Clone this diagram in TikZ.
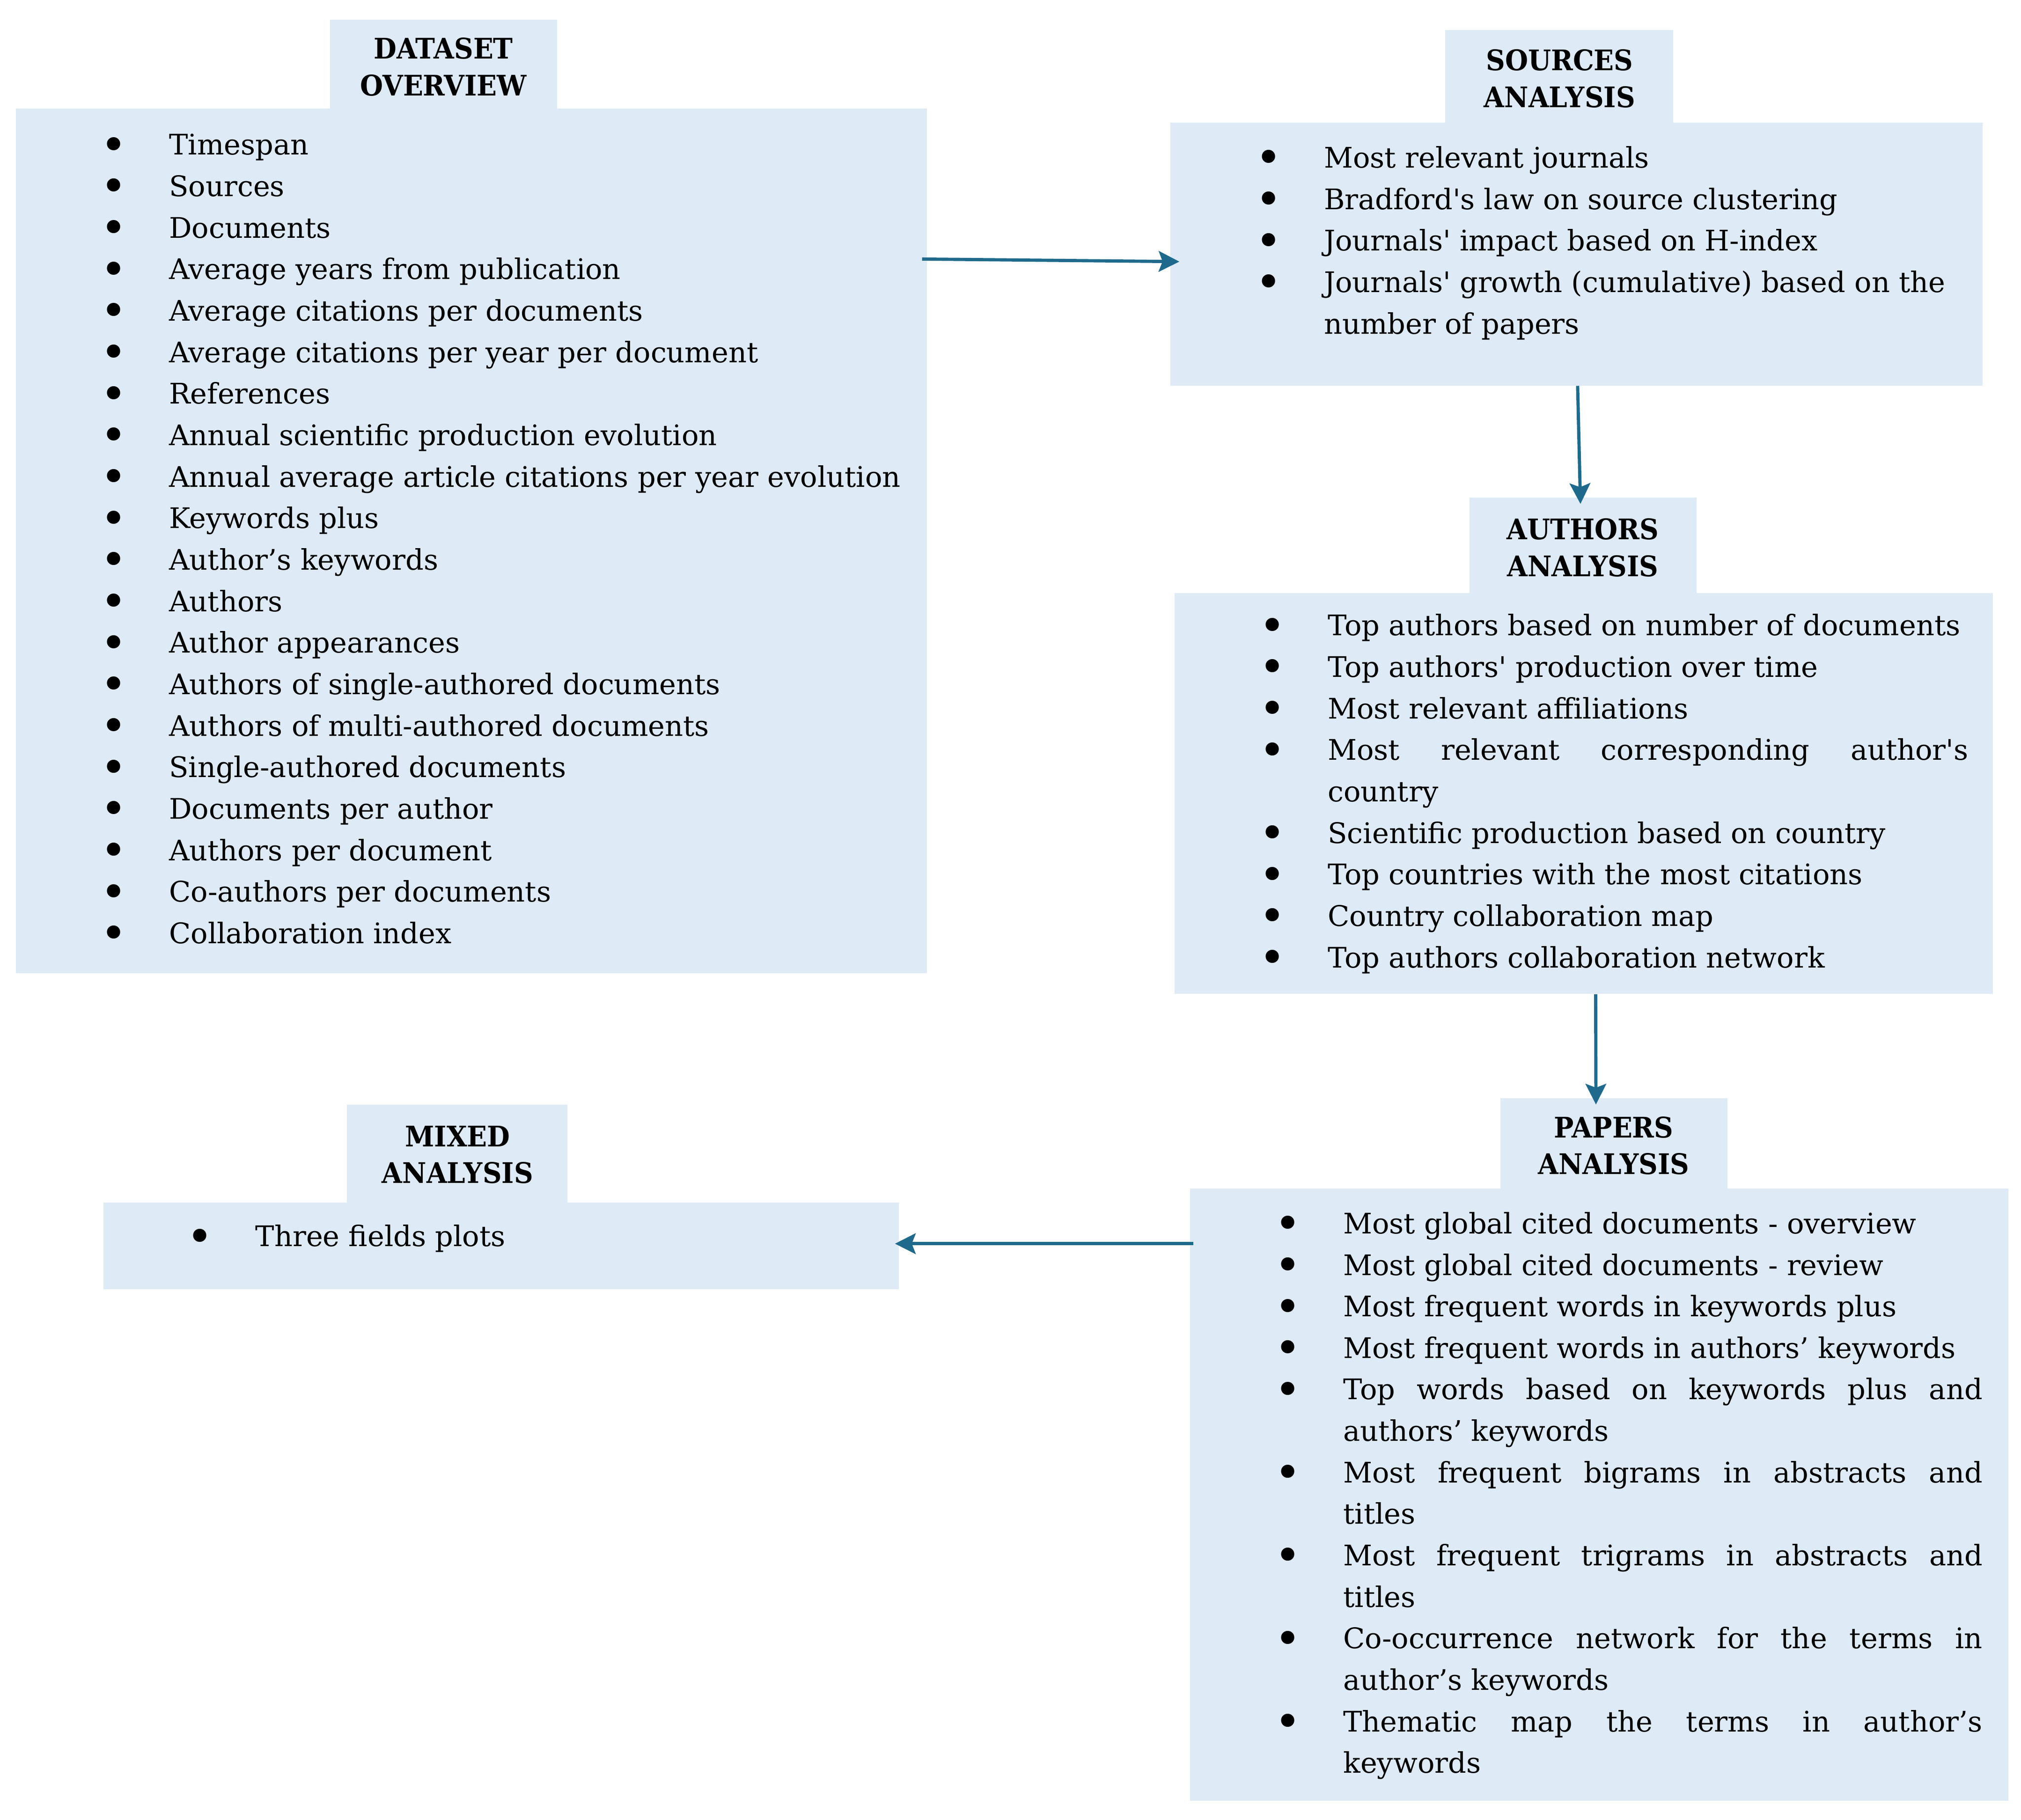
\documentclass[tikz,border=0pt]{standalone}
\usepackage{fontspec}
\usepackage{graphicx}
\setmainfont{DejaVu Serif}
\newfontfamily\hdfont{DejaVu Serif}[FakeStretch=0.93]
\usetikzlibrary{arrows.meta}
\definecolor{panelfill}{HTML}{DEEAF6}
\definecolor{arrowcol}{HTML}{1F6A8C}
\newcommand{\bitem}[1]{\par\noindent\llap{\makebox[0pt][c]{\raisebox{-4.5pt}{\scalebox{1.6}{\textbullet}}}\hspace{43pt}}#1}
\tikzset{
  panel/.style={fill=panelfill, draw=none, inner sep=0pt, anchor=north west},
  tabtext/.style={font=\hdfont\bfseries\fontsize{22}{28.5}\selectfont, align=center, inner sep=0pt},
  listtext/.style={font=\fontsize{22}{32.2}\selectfont, inner sep=0pt, anchor=base west, align=justify},
  arr/.style={draw=arrowcol, line width=2.5pt, -{Stealth[length=16pt,width=16pt,inset=3pt]}}
}
\begin{document}
\begin{tikzpicture}[x=1pt,y=-1pt]
\useasboundingbox (0,0) rectangle (1568,1412);

% ---------- DATASET OVERVIEW ----------
\node[panel, minimum width=176pt, minimum height=71pt] (dstab) at (256,15) {};
\node[panel, minimum width=707pt, minimum height=671pt] (dsbox) at (12,84) {};
\node[tabtext] (dstitle) at (344,52) {DATASET\\OVERVIEW};
\node[listtext, text width=600pt] (dslist) at (131,88) {%
\bitem{Timespan}
\bitem{Sources}
\bitem{Documents}
\bitem{Average years from publication}
\bitem{Average citations per documents}
\bitem{Average citations per year per document}
\bitem{References}
\bitem{Annual scientific production evolution}
\bitem{Annual average article citations per year evolution}
\bitem{Keywords plus}
\bitem{Author’s keywords}
\bitem{Authors}
\bitem{Author appearances}
\bitem{Authors of single-authored documents}
\bitem{Authors of multi-authored documents}
\bitem{Single-authored documents}
\bitem{Documents per author}
\bitem{Authors per document}
\bitem{Co-authors per documents}
\bitem{Collaboration index}};

% ---------- SOURCES ANALYSIS ----------
\node[panel, minimum width=177pt, minimum height=73pt] (srctab) at (1121,23) {};
\node[panel, minimum width=630pt, minimum height=204pt] (srcbox) at (908,95) {};
\node[tabtext] (srctitle) at (1210,61) {SOURCES\\ANALYSIS};
\node[listtext, text width=505pt] (srclist) at (1027,98) {%
\bitem{Most relevant journals}
\bitem{Bradford\textquotesingle s law on source clustering}
\bitem{Journals\textquotesingle\ impact based on H-index}
\bitem{Journals\textquotesingle\ growth (cumulative) based on the\newline number of papers}};

% ---------- AUTHORS ANALYSIS ----------
\node[panel, minimum width=176pt, minimum height=75pt] (autab) at (1140,386) {};
\node[panel, minimum width=635pt, minimum height=311pt] (aubox) at (911,460) {};
\node[tabtext] (autitle) at (1228,425) {AUTHORS\\ANALYSIS};
\node[listtext, text width=497pt] (aulist) at (1030,461) {%
\bitem{Top authors based on number of documents}
\bitem{Top authors\textquotesingle\ production over time}
\bitem{Most relevant affiliations}
\bitem{Most relevant corresponding author\textquotesingle s\linebreak country}
\bitem{Scientific production based on country}
\bitem{Top countries with the most citations}
\bitem{Country collaboration map}
\bitem{Top authors collaboration network}};

% ---------- PAPERS ANALYSIS ----------
\node[panel, minimum width=176pt, minimum height=71pt] (patab) at (1164,852) {};
\node[panel, minimum width=635pt, minimum height=475pt] (pabox) at (923,922) {};
\node[tabtext] (patitle) at (1252,889) {PAPERS\\ANALYSIS};
\node[listtext, text width=496pt] (palist) at (1042,925) {%
\bitem{Most global cited documents - overview}
\bitem{Most global cited documents - review}
\bitem{Most frequent words in keywords plus}
\bitem{Most frequent words in authors’ keywords}
\bitem{Top words based on keywords plus and\linebreak authors’ keywords}
\bitem{Most frequent bigrams in abstracts and\linebreak titles}
\bitem{Most frequent trigrams in abstracts and\linebreak titles}
\bitem{Co-occurrence network for the terms in\linebreak author’s keywords}
\bitem{Thematic map the terms in author’s\linebreak keywords}};

% ---------- MIXED ANALYSIS ----------
\node[panel, minimum width=171pt, minimum height=77pt] (mxtab) at (269,857) {};
\node[panel, minimum width=617pt, minimum height=67pt] (mxbox) at (80,933) {};
\node[tabtext] (mxtitle) at (355,896) {MIXED\\ANALYSIS};
\node[listtext, text width=450pt] (mxlist) at (198,935) {%
\bitem{Three fields plots}};

% ---------- CONNECTORS ----------
\draw[arr] ([xshift=-4pt, yshift=-117pt]dsbox.north east) -- ([xshift=7pt, yshift=-108pt]srcbox.north west);
\draw[arr] ([xshift=316pt]srcbox.south west) -- ([xshift=-2pt, yshift=-5pt]autab.north);
\draw[arr] ([xshift=327pt]aubox.south west) -- ([xshift=-14pt, yshift=-5pt]patab.north);
\draw[arr] ([xshift=3pt, yshift=-43pt]pabox.north west) -- ([xshift=-3pt, yshift=-32pt]mxbox.north east);
\end{tikzpicture}
\end{document}
